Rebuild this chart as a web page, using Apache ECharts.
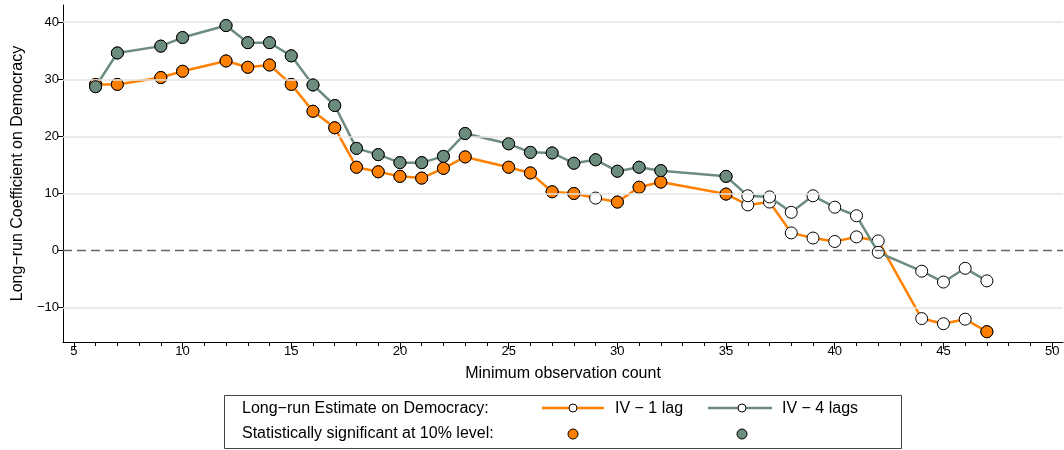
<!DOCTYPE html>
<html>
<head>
<meta charset="utf-8">
<script src="https://cdn.jsdelivr.net/npm/echarts@6/dist/echarts.min.js"></script>
<style>
html,body{margin:0;padding:0;background:#fff;}
#chart{width:1064px;height:450px;}
</style>
</head>
<body>
<div id="chart"></div>
<script>
// ---- data ----
const obsCount = [6,7,9,10,12,13,14,15,16,17,18,19,20,21,22,23,25,26,27,28,29,30,31,32,35,36,37,38,39,40,41,42,44,45,46,47];
const iv1Lag = [29.1,29.1,30.3,31.4,33.2,32.1,32.5,29.1,24.4,21.5,14.6,13.8,13.0,12.7,14.4,16.4,14.6,13.6,10.3,10.0,9.2,8.5,11.1,12.0,9.9,8.0,8.5,3.1,2.2,1.6,2.4,1.7,-11.9,-12.8,-12.0,-14.2];
const iv4Lags = [28.7,34.6,35.8,37.3,39.4,36.4,36.4,34.1,29.0,25.4,17.9,16.8,15.4,15.4,16.5,20.5,18.7,17.2,17.1,15.3,15.9,13.9,14.6,14.0,13.0,9.6,9.4,6.7,9.6,7.6,6.1,-0.3,-3.6,-5.5,-3.1,-5.3];
const sig1Lag = [1,1,1,1,1,1,1,1,1,1,1,1,1,1,1,1,1,1,1,1,0,1,1,1,1,0,0,0,0,0,0,0,0,0,0,1];
const sig4Lags = [1,1,1,1,1,1,1,1,1,1,1,1,1,1,1,1,1,1,1,1,1,1,1,1,1,0,0,0,0,0,0,0,0,0,0,0];
const xMajorTicks = [5,10,15,20,25,30,35,40,45,50];
const xMinorTicks = [];
for (let v = 5; v <= 50; v++) xMinorTicks.push(v);
const yTicks = [-10,0,10,20,30,40];

const ORANGE = '#ff8000';
const TEAL = '#6c8c7e';
const FONT = '"Liberation Sans", Arial, sans-serif';

const pairs = (xs, ys) => xs.map((x, i) => [x, ys[i]]);
const sigPairs = (xs, ys, s) => xs.map((x, i) => [x, ys[i]]).filter((p, i) => s[i]);
const minus = v => String(v).replace('-', '\u2212');

const chart = echarts.init(document.getElementById('chart'), null, {renderer: 'canvas'});

const gridLines = yTicks.filter(v => v !== 0).map(v => ({yAxis: v}));

const option = {
  animation: false,
  backgroundColor: '#fff',
  textStyle: {fontFamily: FONT},
  grid: {left: 63, top: 5, width: 1000, height: 337, containLabel: false},
  xAxis: [{
    type: 'value', min: 4.5, max: 50.5,
    name: 'Minimum observation count', nameLocation: 'middle', nameGap: 24,
    nameTextStyle: {fontSize: 16, color: '#000', fontFamily: FONT},
    axisLine: {show: true, onZero: false, lineStyle: {color: '#000', width: 1}},
    axisTick: {show: true, customValues: xMajorTicks, length: 7, lineStyle: {color: '#000', width: 1}},
    axisLabel: {show: true, customValues: xMajorTicks, fontSize: 13, color: '#000', margin: 3, fontFamily: FONT},
    splitLine: {show: false}
  }, {
    type: 'value', min: 4.5, max: 50.5, position: 'bottom', gridIndex: 0,
    axisLine: {show: false, onZero: false},
    axisTick: {show: true, customValues: xMinorTicks, length: 4, lineStyle: {color: '#000', width: 1}},
    axisLabel: {show: false},
    splitLine: {show: false}
  }],
  yAxis: {
    type: 'value', min: -16, max: 43,
    name: 'Long\u2212run Coefficient on Democracy', nameLocation: 'middle', nameRotate: 90, nameGap: 36,
    nameTextStyle: {fontSize: 16, color: '#000', fontFamily: FONT},
    axisLine: {show: true, onZero: false, lineStyle: {color: '#000', width: 1}},
    axisTick: {show: true, customValues: yTicks, length: 5, lineStyle: {color: '#000', width: 1}},
    axisLabel: {show: true, customValues: yTicks, fontSize: 13, color: '#000', margin: 4, fontFamily: FONT, formatter: v => minus(v)},
    splitLine: {show: false}
  },
  series: [
    {
      type: 'line', data: [], z: 1, silent: true,
      markLine: {
        silent: true, symbol: 'none', label: {show: false}, animation: false,
        data: [
          ...gridLines.map(d => Object.assign({}, d, {lineStyle: {color: '#e3e3e3', width: 1.5, type: 'solid'}})),
          {yAxis: 0, lineStyle: {color: '#666', width: 1.3, type: [9, 5]}}
        ]
      }
    },
    {
      name: 'IV - 1 lag', type: 'line', z: 2, data: pairs(obsCount, iv1Lag),
      symbol: 'circle', symbolSize: 12, showAllSymbol: true,
      lineStyle: {color: ORANGE, width: 2.5},
      itemStyle: {color: '#fff', borderColor: '#000', borderWidth: 1}
    },
    {
      name: 'IV - 4 lags', type: 'line', z: 3, data: pairs(obsCount, iv4Lags),
      symbol: 'circle', symbolSize: 12, showAllSymbol: true,
      lineStyle: {color: TEAL, width: 2.5},
      itemStyle: {color: '#fff', borderColor: '#000', borderWidth: 1}
    },
    {
      type: 'scatter', z: 4, data: sigPairs(obsCount, iv1Lag, sig1Lag),
      symbol: 'circle', symbolSize: 12,
      itemStyle: {color: ORANGE, borderColor: '#000', borderWidth: 1, opacity: 1}
    },
    {
      type: 'scatter', z: 5, data: sigPairs(obsCount, iv4Lags, sig4Lags),
      symbol: 'circle', symbolSize: 12,
      itemStyle: {color: TEAL, borderColor: '#000', borderWidth: 1, opacity: 1}
    }
  ],
  graphic: [
    {type: 'rect', shape: {x: 224.5, y: 395.5, width: 677, height: 53}, style: {fill: '#fff', stroke: '#444', lineWidth: 1}, z: 10},
    {type: 'text', x: 242, y: 409, style: {text: 'Long\u2212run Estimate on Democracy:', font: '16px ' + FONT, fill: '#000', verticalAlign: 'middle'}, z: 11},
    {type: 'text', x: 242, y: 434, style: {text: 'Statistically significant at 10% level:', font: '16px ' + FONT, fill: '#000', verticalAlign: 'middle'}, z: 11},
    {type: 'line', shape: {x1: 542, y1: 408, x2: 604, y2: 408}, style: {stroke: ORANGE, lineWidth: 2.5}, z: 11},
    {type: 'circle', shape: {cx: 573, cy: 408, r: 4}, style: {fill: '#fff', stroke: '#000', lineWidth: 1}, z: 12},
    {type: 'text', x: 615, y: 409, style: {text: 'IV \u2212 1 lag', font: '16px ' + FONT, fill: '#000', verticalAlign: 'middle'}, z: 11},
    {type: 'line', shape: {x1: 708, y1: 408, x2: 772, y2: 408}, style: {stroke: TEAL, lineWidth: 2.5}, z: 11},
    {type: 'circle', shape: {cx: 742, cy: 408, r: 4}, style: {fill: '#fff', stroke: '#000', lineWidth: 1}, z: 12},
    {type: 'text', x: 782, y: 409, style: {text: 'IV \u2212 4 lags', font: '16px ' + FONT, fill: '#000', verticalAlign: 'middle'}, z: 11},
    {type: 'circle', shape: {cx: 573, cy: 434, r: 5}, style: {fill: ORANGE, stroke: '#000', lineWidth: 1}, z: 12},
    {type: 'circle', shape: {cx: 742, cy: 434, r: 5}, style: {fill: TEAL, stroke: '#000', lineWidth: 1}, z: 12}
  ]
};
chart.setOption(option);
</script>
</body>
</html>
